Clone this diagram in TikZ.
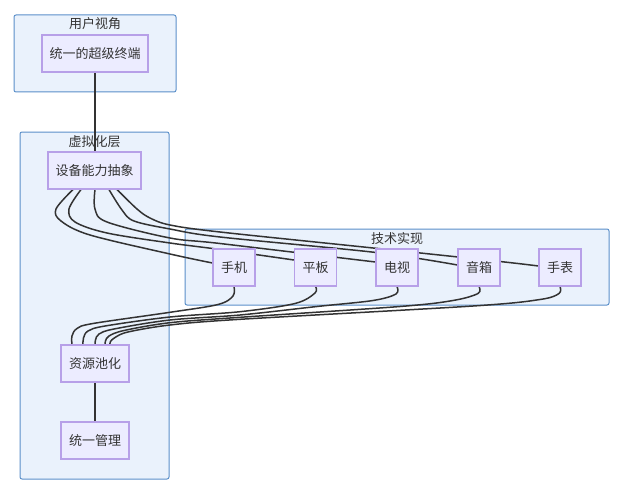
\documentclass[tikz,border=0pt]{standalone}
\usepackage{fontspec}
\newfontfamily\cjk{Noto Sans CJK SC}
\usetikzlibrary{positioning}
\definecolor{nodefill}{HTML}{ECECFF}
\definecolor{nodedraw}{HTML}{B7A0E8}
\definecolor{clfill}{HTML}{EAF2FC}
\definecolor{cldraw}{HTML}{5B8FC9}
\definecolor{txt}{HTML}{333333}
\pgfdeclarelayer{bg}
\pgfdeclarelayer{edges}
\pgfsetlayers{bg,edges,main}
\tikzset{
  box/.style={draw=nodedraw, fill=nodefill, line width=1.1pt, inner sep=0pt,
    minimum height=37pt, text=txt, font=\cjk\fontsize{13}{15}\selectfont},
  cluster/.style={draw=cldraw, fill=clfill, line width=1pt, rounded corners=2pt, inner sep=0pt},
  cltitle/.style={text=txt, font=\cjk\fontsize{13}{15}\selectfont, inner sep=0pt},
  edge/.style={draw=txt, line width=1.5pt}
}
\begin{document}
\begin{tikzpicture}[x=1pt,y=-1pt]
\useasboundingbox (0,0) rectangle (620,492);
% clusters
\begin{pgfonlayer}{bg}
\node[cluster, minimum width=162pt, minimum height=77pt] (c1) at (95,53.5) {};
\node[cltitle] (c1t) at (95,24) {用户视角};
\node[cluster, minimum width=149pt, minimum height=347pt] (c2) at (94.5,305.5) {};
\node[cltitle] (c2t) at (94.5,142) {虚拟化层};
\node[cluster, minimum width=424pt, minimum height=76pt] (c3) at (397,267) {};
\node[cltitle] (c3t) at (397,239) {技术实现};
\end{pgfonlayer}
% nodes
\node[box, minimum width=106pt] (term) at (95,53.5) {统一的超级终端};
\node[box, minimum width=93pt] (abs) at (94.5,170.5) {设备能力抽象};
\node[box, minimum width=42pt] (phone) at (234,267.5) {手机};
\node[box, minimum width=42pt] (pad) at (315.5,267.5) {平板};
\node[box, minimum width=42pt] (tv) at (397,267.5) {电视};
\node[box, minimum width=42pt] (spk) at (479,267.5) {音箱};
\node[box, minimum width=42pt] (watch) at (560,267.5) {手表};
\node[box, minimum width=68pt] (pool) at (95,363.5) {资源池化};
\node[box, minimum width=68pt] (mgmt) at (95,440.5) {统一管理};
% edges
\begin{pgfonlayer}{edges}
\draw[edge] (term.south) -- (abs.south -| term.south);
\draw[edge] (pool) -- (mgmt);
\draw[edge] plot[smooth, tension=0.55] coordinates {([xshift=-21.5pt]abs.south) (56,209) (61,221) (90,235) (170,254) ([yshift=4.5pt]phone.west)};
\draw[edge] plot[smooth, tension=0.55] coordinates {([xshift=-13.5pt]abs.south) (69,209) (75,222) (107,233) (170,243) (220,249.5) ([yshift=7.5pt]pad.west)};
\draw[edge] plot[smooth, tension=0.55] coordinates {([xshift=0.5pt]abs.south) (95,209) (107,222) (170,238) (220,243.5) ([yshift=5.5pt]tv.west)};
\draw[edge] plot[smooth, tension=0.55] coordinates {([xshift=14.5pt]abs.south) (122,210) (134,221) (170,229) (220,237) (376,252.5) ([yshift=2.5pt]spk.west)};
\draw[edge] plot[smooth, tension=0.55] coordinates {([xshift=22.5pt]abs.south) (137,209) (150,218) (170,225) (220,232) (376,248.3) (500,261.5) ([yshift=1.5pt]watch.west)};
% to pool
\draw[edge] plot[smooth, tension=0.55] coordinates {(phone.south) (233,296) (218,304.5) (170,312.3) (93,323.5) (77,328.5) (72,336) ([xshift=-23pt]pool.north)};
\draw[edge] plot[smooth, tension=0.55] coordinates {(pad.south) (315,293) (295,303.5) (240,311.7) (170,317) (105,326) (88,331) (83.5,338) ([xshift=-12pt]pool.north)};
\draw[edge] plot[smooth, tension=0.55] coordinates {(tv.south) (396,294) (373,300.5) (317,306.5) (240,315) (170,320) (114,329) (99,334) (95.5,340) (pool.north)};
\draw[edge] plot[smooth, tension=0.55] coordinates {(spk.south) (478,293.5) (453,300.5) (400,306.5) (240,317.3) (170,322.7) (124,330.5) (109,336) (105.5,341) ([xshift=10pt]pool.north)};
\draw[edge] plot[smooth, tension=0.55] coordinates {(watch.south) (559,293.5) (540,299.5) (473,306) (240,319.3) (170,325) (128,332) (115,337.5) (110.5,341.5) ([xshift=15pt]pool.north)};
\end{pgfonlayer}
\end{tikzpicture}
\end{document}
